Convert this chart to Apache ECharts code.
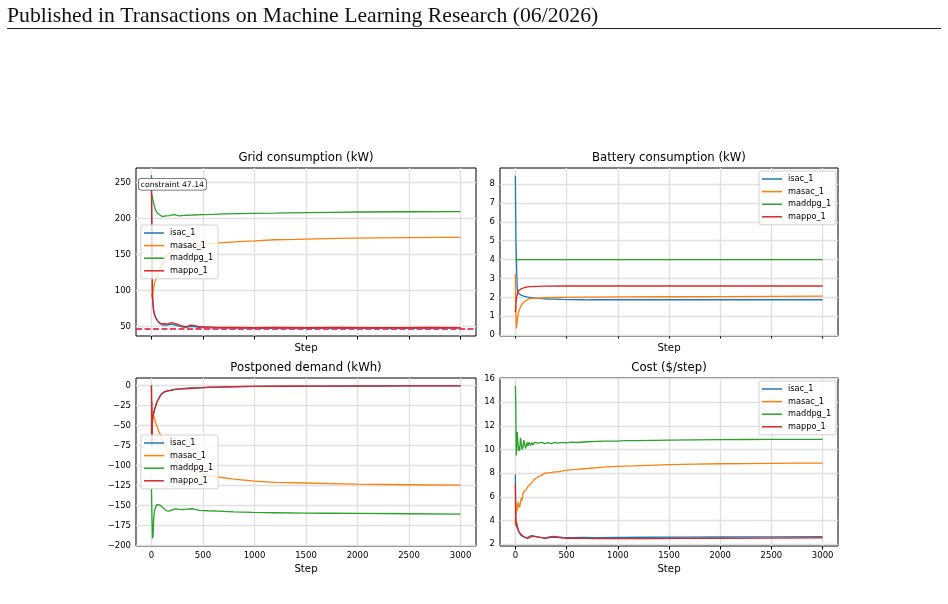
<!DOCTYPE html>
<html>
<head>
<meta charset="utf-8">
<title>Training curves</title>
<script src="https://cdn.jsdelivr.net/npm/echarts@6/dist/echarts.min.js"></script>
<style>
  html, body { margin: 0; padding: 0; background: #fff; }
  #chart { width: 948px; height: 604px; }
</style>
</head>
<body>
<div id="chart"></div>
<script>
// series names + tick labels
const names = ["isac_1", "masac_1", "maddpg_1", "mappo_1"];
const colors = ["#1f77b4", "#ff7f0e", "#2ca02c", "#d62728"];
const stepTicks = [0, 500, 1000, 1500, 2000, 2500, 3000];
const gridTicks = [50, 100, 150, 200, 250];
const batteryTicks = [0, 1, 2, 3, 4, 5, 6, 7, 8];
const postponedTicks = [-200, -175, -150, -125, -100, -75, -50, -25, 0];
const costTicks = [2, 4, 6, 8, 10, 12, 14, 16];
const constraintValue = 47.14;

// Grid consumption (kW)  [step, value]
const gridIsac = [[0,260],[3,200],[6,140],[10,92],[15,80],[20,72],[30,66],[43,62],[60,58],[75,55],[91,53],[110,52],[130,52.5],[156,52],[180,53.5],[200,53],[230,52],[260,51],[300,49.5],[340,49],[380,50.5],[420,50],[470,48.5],[550,48.2],[650,48],[800,47.8],[1000,47.6],[1200,47.9],[1500,47.7],[1800,47.8],[2100,47.6],[2400,47.8],[2700,47.7],[3000,47.8]];
const gridMasac = [[0,96],[5,90],[10,92],[20,103],[33,112],[50,118],[75,128],[91,133],[107,137],[125,142],[150,148],[172,151],[200,155],[240,157.5],[270,159],[320,161],[400,162.5],[500,164],[600,165.5],[700,166.5],[850,168],[1000,169],[1200,170.5],[1400,171],[1600,171.8],[1800,172.3],[2000,172.8],[2200,173.2],[2500,173.5],[2800,173.7],[3000,173.8]];
const gridMaddpg = [[5,233],[10,232],[20,222],[36,213],[55,208],[75,205.5],[107,202.6],[140,203.5],[172,204],[200,205],[221,205.3],[250,204.2],[270,203.5],[300,204],[335,204.5],[400,204.8],[497,205.3],[600,205.8],[700,206.3],[850,206.7],[985,207],[1200,207.4],[1500,208],[1750,208.5],[2000,209],[2500,209.3],[3000,209.5]];
const gridMappo = [[0,248],[3,190],[6,135],[10,95],[15,82],[20,74],[30,67],[43,62],[60,58],[75,55.5],[91,54],[110,53],[130,54],[156,53.5],[180,55],[200,55.5],[230,54],[260,53],[300,50.5],[340,50],[380,52],[420,51.5],[470,49.8],[550,49.5],[650,49],[800,48.8],[1000,48.6],[1200,48.8],[1500,48.7],[1800,48.8],[2100,48.6],[2400,48.7],[2700,48.8],[3000,48.7]];

// Battery consumption (kW)
const batIsac = [[0,8.44],[3,6.5],[6,5.0],[10,4.03],[15,3.0],[20,2.36],[30,2.22],[42,2.14],[60,2.1],[91,2.05],[120,2.01],[156,1.98],[200,1.95],[253,1.93],[320,1.91],[383,1.9],[450,1.89],[546,1.88],[650,1.87],[700,1.86],[760,1.87],[900,1.88],[1200,1.87],[1500,1.88],[1800,1.87],[2100,1.87],[2500,1.87],[3000,1.87]];
const batMasac = [[0,3.24],[3,2.2],[6,1.0],[10,0.35],[15,0.6],[22,0.95],[32,1.23],[45,1.42],[58,1.58],[75,1.7],[91,1.79],[115,1.87],[140,1.93],[180,1.95],[221,1.96],[300,1.98],[400,1.99],[500,2.0],[700,2.01],[1000,2.02],[1500,2.03],[2000,2.04],[2500,2.05],[3000,2.06]];
const batMaddpg = [[0,4.0],[500,4.0],[1000,4.0],[1500,4.0],[2000,4.0],[2500,4.0],[3000,4.0]];
const batMappo = [[0,1.22],[5,1.6],[10,1.93],[18,2.15],[26,2.31],[40,2.4],[58,2.45],[91,2.52],[120,2.55],[156,2.57],[220,2.58],[286,2.59],[500,2.6],[1000,2.6],[1500,2.6],[2000,2.6],[2500,2.6],[3000,2.6]];

// Postponed demand (kWh)
const pdIsac = [[0,0],[3,-35],[5,-60],[8,-50],[12,-42],[18,-36],[26,-32],[35,-28],[43,-24],[55,-20],[75,-15],[95,-11],[124,-8],[150,-7],[189,-6],[230,-5],[300,-4],[380,-3.2],[480,-2.6],[560,-2.2],[640,-2],[800,-1.5],[1000,-1.1],[1300,-0.9],[1600,-0.8],[2000,-0.7],[2500,-0.6],[3000,-0.5]];
const pdMasac = [[0,-60],[3,-35],[8,-45],[12,-33],[18,-37],[26,-40],[35,-44],[50,-50],[75,-58],[100,-66],[125,-73],[150,-80],[200,-90],[250,-97],[300,-101],[350,-104],[420,-107],[500,-110],[628,-114],[800,-117],[1000,-119.5],[1200,-121],[1500,-121.8],[1750,-122.5],[2000,-123.2],[2500,-124],[3000,-124.5]];
const pdMaddpg = [[0,-128],[5,-165],[10,-191],[16,-188],[22,-165],[28,-158],[36,-153.5],[50,-149],[68,-148],[85,-149.5],[107,-152],[130,-155],[150,-156.5],[172,-157],[200,-155.5],[237,-154],[270,-154.8],[302,-155],[350,-154.5],[400,-154],[465,-156],[550,-156.5],[650,-157],[800,-158],[985,-158.6],[1200,-159],[1500,-159.4],[1750,-159.6],[2000,-159.8],[2500,-160.2],[3000,-160.6]];
const pdMappo = [[0,0],[2,-75],[4,-20],[6,-76],[9,-45],[13,-40],[20,-36],[30,-30],[43,-25],[55,-20],[75,-15.5],[95,-11],[124,-8.3],[150,-6.8],[189,-6.2],[230,-5],[270,-4.6],[319,-4.1],[400,-3.5],[481,-3],[560,-2.4],[643,-2],[800,-1.6],[968,-1.2],[1300,-1],[1600,-0.9],[2000,-0.8],[2500,-0.6],[3000,-0.6]];

// Cost ($/step)
const costIsac = [[0,7.9],[3,5.0],[6,3.62],[12,3.5],[20,3.34],[30,3.1],[42,2.92],[55,2.75],[74,2.64],[90,2.58],[107,2.55],[125,2.6],[156,2.72],[180,2.68],[221,2.6],[250,2.55],[286,2.52],[320,2.6],[350,2.64],[383,2.66],[420,2.62],[460,2.57],[546,2.55],[650,2.57],[800,2.56],[1000,2.58],[1300,2.59],[1600,2.6],[2000,2.61],[2500,2.62],[3000,2.63]];
const costMasac = [[0,3.7],[3,5.6],[8,4.6],[14,4.74],[20,5.0],[26,5.58],[32,5.3],[42,5.1],[50,5.6],[58,5.9],[66,5.7],[74,6.3],[82,6.2],[91,6.5],[100,6.4],[110,6.7],[123,6.9],[135,6.85],[150,7.1],[165,7.25],[188,7.5],[210,7.6],[230,7.75],[250,7.8],[286,8.0],[320,8.03],[350,8.05],[383,8.12],[420,8.12],[460,8.2],[500,8.24],[546,8.3],[600,8.33],[700,8.4],[800,8.48],[900,8.53],[1000,8.58],[1150,8.62],[1300,8.67],[1500,8.72],[1750,8.77],[2000,8.8],[2250,8.82],[2500,8.84],[2750,8.85],[3000,8.86]];
const costMaddpg = [[0,15.4],[4,14],[8,9.5],[12,10.2],[18,11.5],[24,11.46],[30,9.9],[36,10.3],[42,9.9],[50,11.0],[58,10.9],[66,10.0],[74,10.2],[82,10.8],[91,10.7],[99,10.1],[107,10.2],[115,10.6],[123,10.3],[131,10.6],[140,10.5],[150,10.35],[160,10.6],[172,10.4],[185,10.6],[200,10.45],[221,10.55],[240,10.45],[260,10.6],[290,10.5],[320,10.58],[350,10.5],[383,10.6],[420,10.55],[460,10.6],[500,10.57],[546,10.63],[600,10.6],[700,10.66],[800,10.7],[871,10.72],[1000,10.72],[1066,10.76],[1200,10.76],[1350,10.78],[1500,10.8],[1750,10.82],[2000,10.84],[2250,10.85],[2500,10.86],[2750,10.86],[3000,10.87]];
const costMappo = [[0,7.1],[3,4.5],[6,3.6],[10,3.9],[15,3.7],[20,3.5],[30,3.2],[40,3.0],[60,2.8],[80,2.65],[100,2.55],[120,2.5],[140,2.58],[170,2.68],[200,2.65],[230,2.6],[260,2.55],[300,2.5],[330,2.56],[350,2.6],[400,2.58],[450,2.54],[500,2.5],[600,2.51],[700,2.49],[800,2.48],[1000,2.47],[1300,2.48],[1600,2.49],[2000,2.5],[2500,2.52],[3000,2.53]];

const panels = [
  { title: "Grid consumption (kW)", data: [gridIsac, gridMasac, gridMaddpg, gridMappo], ticks: gridTicks, min: 37, max: 270 },
  { title: "Battery consumption (kW)", data: [batIsac, batMasac, batMaddpg, batMappo], ticks: batteryTicks, min: -0.05, max: 8.85 },
  { title: "Postponed demand (kWh)", data: [pdIsac, pdMasac, pdMaddpg, pdMappo], ticks: postponedTicks, min: -200.5, max: 9.3 },
  { title: "Cost ($/step)", data: [costIsac, costMasac, costMaddpg, costMappo], ticks: costTicks, min: 1.85, max: 16.05 }
];

const FONT = "DejaVu Sans";
const boxes = [
  { left: 136, top: 168, width: 340, height: 168 },
  { left: 500, top: 168, width: 338, height: 168 },
  { left: 136, top: 378, width: 340, height: 168 },
  { left: 500, top: 378, width: 338, height: 168 }
];
const legendPos = [[141, 225], [759, 171], [141, 435], [759, 381]];

const minus = v => (v < 0 ? "\u2212" + Math.abs(v) : String(v));

const chart = echarts.init(document.getElementById("chart"), null, { renderer: "canvas" });

const option = {
  animation: false,
  backgroundColor: "#fff",
  title: panels.map((p, i) => ({
    text: p.title,
    left: boxes[i].left + boxes[i].width / 2,
    top: boxes[i].top - 16,
    textAlign: "center",
    padding: 0,
    textStyle: { fontFamily: FONT, fontSize: 11.7, fontWeight: "normal", color: "#000" }
  })),
  grid: boxes.map(b => ({
    left: b.left, top: b.top, width: b.width, height: b.height,
    show: true, borderColor: "#000", borderWidth: 1, backgroundColor: "transparent"
  })),
  legend: legendPos.map(([l, t]) => ({
    left: l,
    top: t,
    z: 10,
    orient: "vertical",
    data: names,
    icon: "rect",
    itemWidth: 20,
    itemHeight: 1.5,
    itemGap: 2.6,
    padding: [3, 5, 3, 3],
    borderColor: "#d0d0d0",
    borderWidth: 1,
    borderRadius: 2,
    backgroundColor: "rgba(255,255,255,0.8)",
    selectedMode: false,
    textStyle: { fontFamily: FONT, fontSize: 8.2, color: "#000", lineHeight: 10, padding: [0, 0, 0, 1] }
  })),
  xAxis: boxes.map((b, i) => ({
    type: "value",
    gridIndex: i,
    min: -150,
    max: 3150,
    name: "Step",
    nameLocation: "middle",
    nameGap: i < 2 ? 7 : 18,
    nameTextStyle: { fontFamily: FONT, fontSize: 10.2, color: "#000" },
    axisLine: { show: false },
    axisTick: { show: true, length: 3.5, lineStyle: { color: "#000" }, customValues: stepTicks },
    axisLabel: {
      show: i >= 2,
      customValues: stepTicks,
      formatter: v => String(v),
      fontFamily: FONT, fontSize: 8.5, color: "#000", margin: 5
    },
    splitLine: { show: false }
  })),
  yAxis: panels.map((p, i) => ({
    type: "value",
    gridIndex: i,
    min: p.min,
    max: p.max,
    axisLine: { show: false },
    axisTick: { show: true, length: 3.5, lineStyle: { color: "#000" }, customValues: p.ticks },
    axisLabel: {
      customValues: p.ticks,
      formatter: minus,
      fontFamily: FONT, fontSize: 8.5, color: "#000", margin: 5
    },
    splitLine: { show: false }
  })),
  series: [],
  graphic: [
    {
      type: "text",
      left: 7,
      top: 5,
      style: { text: "Published in Transactions on Machine Learning Research (06/2026)", font: "21.7px 'Liberation Serif'", fill: "#111" }
    },
    {
      type: "line",
      shape: { x1: 7, y1: 28.5, x2: 941, y2: 28.5 },
      style: { stroke: "#222", lineWidth: 1 }
    },
    {
      type: "text",
      left: 138,
      top: 178,
      z: 100,
      style: {
        text: "constraint 47.14",
        font: "7.7px 'DejaVu Sans'",
        fill: "#000",
        backgroundColor: "#fff",
        borderColor: "#555",
        borderWidth: 0.8,
        borderRadius: 2.5,
        padding: [2, 2, 1, 2]
      }
    }
  ]
};

panels.forEach((p, i) => {
  // grid lines at the tick positions, drawn under the curves
  option.series.push({
    type: "line",
    xAxisIndex: i,
    yAxisIndex: i,
    data: [],
    z: 1,
    silent: true,
    markLine: {
      silent: true,
      z: 1,
      symbol: "none",
      label: { show: false },
      lineStyle: { color: "#e0e0e0", type: "solid", width: 1.4 },
      data: stepTicks.map(x => ({ xAxis: x })).concat(p.ticks.map(y => ({ yAxis: y })))
    }
  });
  p.data.forEach((d, k) => {
    const s = {
      name: names[k],
      type: "line",
      xAxisIndex: i,
      yAxisIndex: i,
      data: d,
      z: 3,
      showSymbol: false,
      symbol: "none",
      color: colors[k],
      lineStyle: { width: 1.3, color: colors[k] },
      emphasis: { disabled: true }
    };
    // dashed constraint line on the grid panel
    if (i === 0 && k === 3) {
      s.markLine = {
        silent: true,
        z: 5,
        symbol: "none",
        label: { show: false },
        lineStyle: { color: "#e8325a", type: [6, 2.5], width: 2, opacity: 0.9 },
        data: [{ yAxis: constraintValue }]
      };
    }
    option.series.push(s);
  });
});

chart.setOption(option);
</script>
</body>
</html>
